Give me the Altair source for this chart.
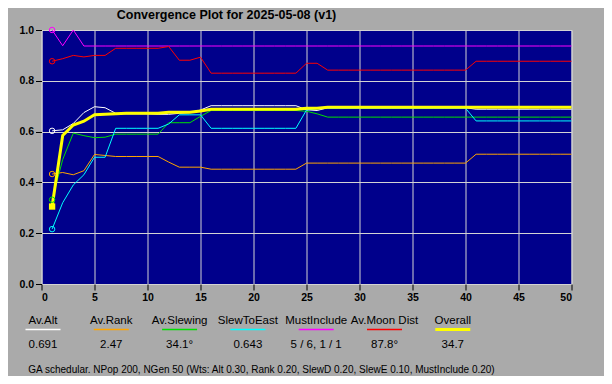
import altair as alt
import pandas as pd

gens = list(range(1, 51))

av_alt = [0.603, 0.607, 0.632, 0.675, 0.698, 0.694, 0.672, 0.670, 0.670, 0.670,
          0.668, 0.668, 0.672, 0.675, 0.685] + [0.702] * 9 + [0.686, 0.683] + [0.694] * 14 + [0.688] * 10
av_rank = [0.433, 0.439, 0.430, 0.446, 0.510, 0.506, 0.502, 0.502, 0.502, 0.502,
           0.502, 0.480, 0.460, 0.460, 0.460] + [0.452] * 9 + [0.476] * 16 + [0.511] * 10
av_slewing = [0.332, 0.490, 0.594, 0.584, 0.576, 0.578, 0.590, 0.590, 0.590, 0.590,
              0.590, 0.635, 0.635, 0.635, 0.660] + [0.683] * 9 + [0.680, 0.670] + [0.657] * 24
slew_east = [0.216, 0.320, 0.390, 0.430, 0.499, 0.499, 0.613, 0.613, 0.613, 0.613,
             0.613, 0.630, 0.666, 0.666, 0.666] + [0.613] * 9 + [0.685, 0.690] + [0.692] * 14 + [0.642] * 10
must_include = [1.0, 0.938, 1.0] + [0.937] * 47
moon_dist = [0.877, 0.887, 0.900, 0.894, 0.900, 0.900, 0.928, 0.928, 0.928, 0.928,
             0.928, 0.935, 0.881, 0.881, 0.893] + [0.830] * 9 + [0.869, 0.869] + [0.842] * 14 + [0.877] * 10
overall = [0.305, 0.585, 0.626, 0.641, 0.666, 0.668, 0.670, 0.672, 0.672, 0.672,
           0.672, 0.676, 0.676, 0.676, 0.681] + [0.688] * 9 + [0.692, 0.692] + [0.696] * 24

series_names = ["Av.Alt", "Av.Rank", "Av.Slewing", "SlewToEast", "MustInclude", "Av.Moon Dist", "Overall"]
series_colors = ["#ffffff", "#ffa500", "#00e000", "#00ffff", "#ff00ff", "#ff0000", "#ffff00"]
final_values = ["0.691", "2.47", "34.1°", "0.643", "5 / 6, 1 / 1", "87.8°", "34.7"]
series_data = [av_alt, av_rank, av_slewing, slew_east, must_include, moon_dist, overall]

title_text = "Convergence Plot for 2025-05-08 (v1)"
footnote = "GA schedular. NPop 200, NGen 50 (Wts: Alt 0.30, Rank 0.20, SlewD 0.20, SlewE 0.10, MustInclude 0.20)"

x_ticks = list(range(0, 51, 5))
y_ticks = [0.0, 0.2, 0.4, 0.6, 0.8, 1.0]

rows = []
for name, vals in zip(series_names, series_data):
    for g, v in zip(gens, vals):
        rows.append({"gen": g, "value": v, "series": name})
df = pd.DataFrame(rows)

leg = pd.DataFrame({"name": series_names, "val": final_values, "col": series_colors,
                    "i": list(range(len(series_names)))})

FONT = "Liberation Sans"
GRID = "#d3d3d3"

color_scale = alt.Scale(domain=series_names, range=series_colors)

x_enc = alt.X("gen:Q", scale=alt.Scale(domain=[0, 50], nice=False),
              axis=alt.Axis(values=x_ticks, title=None, grid=True, gridColor=GRID, gridOpacity=1,
                            domain=False, tickColor="black", tickSize=6, labelPadding=2,
                            labelFont=FONT, labelFontSize=10.5, labelFontWeight="bold",
                            labelColor="black"))
y_enc = alt.Y("value:Q", scale=alt.Scale(domain=[0, 1], nice=False),
              axis=alt.Axis(values=y_ticks, format=".1f", title=None, grid=True, gridColor=GRID,
                            gridOpacity=1, domain=False, tickColor="black", tickSize=6,
                            labelPadding=2, labelFont=FONT, labelFontSize=10.5,
                            labelFontWeight="bold", labelColor="black"))

base = alt.Chart(df)

thin_lines = base.transform_filter("datum.series != 'Overall'").mark_line(strokeWidth=1).encode(
    x=x_enc, y=y_enc,
    color=alt.Color("series:N", scale=color_scale, legend=None),
    detail="series:N",
)
thick_line = base.transform_filter("datum.series == 'Overall'").mark_line(strokeWidth=3).encode(
    x="gen:Q", y="value:Q",
    color=alt.Color("series:N", scale=color_scale, legend=None),
)
start_circles = base.transform_filter("datum.gen == 1 && datum.series != 'Overall'").mark_point(
    shape="circle", filled=False, size=30, strokeWidth=1, opacity=1).encode(
    x="gen:Q", y="value:Q",
    color=alt.Color("series:N", scale=color_scale, legend=None),
)
start_square = base.transform_filter("datum.gen == 1 && datum.series == 'Overall'").mark_point(
    shape="square", filled=True, size=40, opacity=1).encode(
    x="gen:Q", y="value:Q",
    color=alt.Color("series:N", scale=color_scale, legend=None),
)

legbase = alt.Chart(leg).transform_calculate(
    px="1.5 + 68.3 * datum.i",
    ux1="1.5 + 68.3 * datum.i - 17.5",
    ux2="1.5 + 68.3 * datum.i + 17.5",
    w="datum.name == 'Overall' ? 3 : 1.5",
)
leg_labels = legbase.mark_text(font=FONT, fontSize=11.5, color="black", align="center",
                               baseline="alphabetic").encode(
    x=alt.X("px:Q", scale=None, axis=None), y=alt.value(294), text="name:N")
leg_lines = legbase.mark_rule().encode(
    x=alt.X("ux1:Q", scale=None, axis=None), x2="ux2:Q", y=alt.value(299.5),
    color=alt.Color("col:N", scale=None, legend=None),
    strokeWidth=alt.StrokeWidth("w:Q", scale=None, legend=None))
leg_values = legbase.mark_text(font=FONT, fontSize=11.5, color="black", align="center",
                               baseline="alphabetic").encode(
    x=alt.X("px:Q", scale=None, axis=None), y=alt.value(318), text="val:N")

one = pd.DataFrame({"t": [title_text], "f": [footnote]})
title_mark = alt.Chart(one).mark_text(font=FONT, fontSize=12.5, fontWeight="bold", color="black",
                                      align="center", baseline="alphabetic").encode(
    x=alt.value(185), y=alt.value(-11), text="t:N")
foot_mark = alt.Chart(one).mark_text(font=FONT, fontSize=10, color="black",
                                     align="center", baseline="alphabetic").encode(
    x=alt.value(220), y=alt.value(343), text="f:N")

chart = alt.layer(
    thin_lines, thick_line, start_circles, start_square,
    leg_labels, leg_lines, leg_values, title_mark, foot_mark
).resolve_scale(color="independent").properties(
    width=530, height=254,
    autosize=alt.AutoSizeParams(type="none"),
    padding={"left": 33.5, "top": 22, "right": 32, "bottom": 92},
    background="#aaaaaa",
).configure_view(fill="#00008b", stroke=GRID, strokeWidth=1)

chart.save("out.html", embed_options={"renderer": "svg", "actions": False})
